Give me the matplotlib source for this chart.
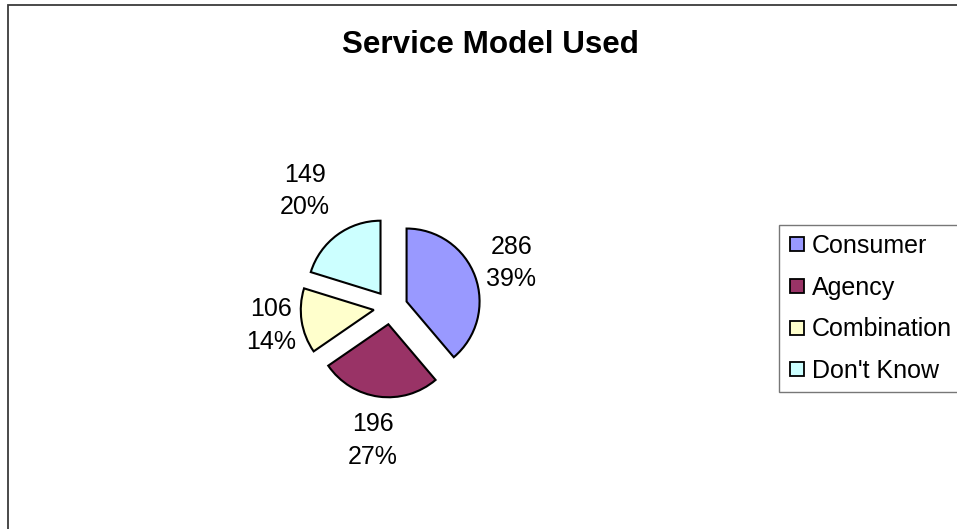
import matplotlib
matplotlib.use("Agg")
import matplotlib.pyplot as plt
from matplotlib.lines import Line2D
from matplotlib.patches import Rectangle
import numpy as np

plt.rcParams['font.family'] = ['Liberation Sans', 'DejaVu Sans']

# survey answers
categories = ["Consumer", "Agency", "Combination", "Don't Know"]
counts = [286, 196, 106, 149]
colors = ["#9999FF", "#993366", "#FFFFCC", "#CCFFFF"]

# how far out each value label sits (in pie radii)
label_dist = [1.76, 1.84, 1.66, 1.98]

W, H = 957, 529
fig = plt.figure(figsize=(W / 100, H / 100), dpi=100)

# chart area frame (right and bottom run off the canvas)
fig.patches.append(Rectangle((8 / W, -0.5), 1.5, 1.5 - 5 / H,
                             transform=fig.transFigure, fill=False,
                             edgecolor="#3a3a3a", linewidth=1.3))

fig.text(490 / W, 1 - 45 / H, "Service Model Used", ha="center", va="center",
         fontsize=22.6, fontweight="bold")

# pie axes: radius 1 maps to ~73 px
cx, cy, half = 390.6, 307.4, 100
ax = fig.add_axes([(cx - half) / W, 1 - (cy + half) / H, 2 * half / W, 2 * half / H])
lim = half / 73.0

wedges, _ = ax.pie(counts, colors=colors, startangle=90, counterclock=False,
                   explode=[0.233] * len(counts), radius=1.0, center=(0, 0),
                   wedgeprops=dict(edgecolor="black", linewidth=1.5))
ax.set_xlim(-lim, lim)
ax.set_ylim(-lim, lim)
ax.set_aspect("equal")
ax.axis("off")

total = sum(counts)
for w, n, d in zip(wedges, counts, label_dist):
    ang = np.deg2rad((w.theta1 + w.theta2) / 2)
    x, y = d * np.cos(ang), d * np.sin(ang)
    ax.text(x, y, "%d\n%d%%" % (n, round(100 * n / total)), ha="center",
            va="center", fontsize=18, linespacing=1.45, clip_on=False)

handles = [Line2D([], [], linestyle="none", marker="s", markersize=9.5,
                  markerfacecolor=c, markeredgecolor="black", markeredgewidth=1.3)
           for c in colors]
leg = fig.legend(handles, categories, loc="upper left",
                 bbox_to_anchor=(779 / W, 1 - 225 / H), fontsize=18,
                 frameon=True, fancybox=False, handlelength=0.7,
                 handletextpad=0.25, labelspacing=0.71, borderpad=0.35,
                 borderaxespad=0)
leg.get_frame().set_edgecolor("#555555")
leg.get_frame().set_linewidth(1.0)

fig.savefig("out.png", dpi=100)
